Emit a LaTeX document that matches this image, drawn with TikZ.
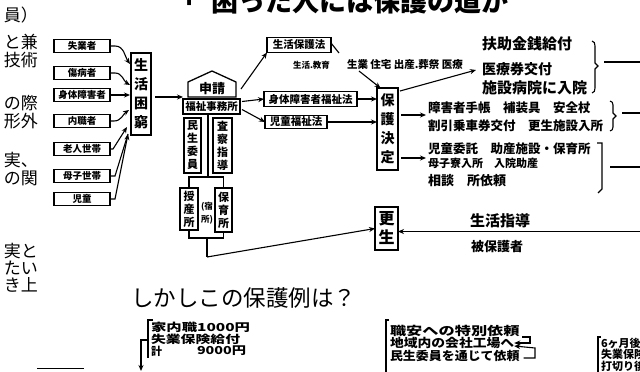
\documentclass[tikz,border=0pt]{standalone}
\usepackage{fontspec}
\newfontfamily\jp{Noto Sans CJK JP}
\usetikzlibrary{arrows.meta}
\newcommand{\fsz}[1]{\fontsize{#1}{#1}\selectfont}
\newcommand{\vfs}[2]{\fontsize{#1}{#2}\selectfont}
\newcommand{\hw}[2]{\scalebox{#1}[1]{#2}}
\begin{document}
\begin{tikzpicture}[x=1pt,y=-1pt,
  every node/.style={inner sep=0pt, outer sep=0pt, font=\jp},
  catbox/.style={draw, line width=1.3pt, minimum width=56pt, minimum height=13pt, font=\jp\bfseries\fsz{9.5}},
  vbox/.style={draw, line width=1.2pt, align=center},
  lawbox/.style={draw, line width=1.3pt, minimum height=15pt, font=\jp\bfseries\fsz{10.5}},
  arr/.style={-{Stealth[length=6pt,width=5pt]}, line width=1.1pt},
  ln/.style={line width=1.1pt},
  hand/.style={anchor=west},
]
\useasboundingbox (0,0) rectangle (640,372);
\fill[white] (0,0) rectangle (640,372);
\clip (0,0) rectangle (640,372);

% left column fragments
\foreach \t/\y [count=\i] in {員）/15, と兼/42, 技術/60, の際/103, 形外/121, 実、/160, の関/178, 実と/251, たい/268, き上/285}
  \node[anchor=east, font=\jp\fsz{17}] (lc\i) at (38,\y) {\t};
\node[anchor=east, font=\jp\fsz{12}] (lcdot) at (7,141) {。};
\draw[line width=1pt] (37,368) -- (84,368);

% title
\node[anchor=base west, font=\jp\bfseries\fsz{27}] (t0) at (170,12) {「};
\node[anchor=base west, font=\jp\bfseries\fsz{27}] (t1) at (211,12) {困った人には保護の道が};

% categories
\node[catbox] (c1) at (82,46) {失業者};
\node[catbox] (c2) at (82,73) {傷病者};
\node[catbox] (c3) at (82,95) {身体障害者};
\node[catbox] (c4) at (82,121) {内職者};
\node[catbox] (c5) at (82,149) {老人世帯};
\node[catbox] (c6) at (82,176) {母子世帯};
\node[catbox] (c7) at (82,199) {児童};

\node[vbox, minimum width=20pt, minimum height=82pt, font=\jp\bfseries\vfs{14}{19}] (kon) at (141,94) {生\\活\\困\\窮};
\coordinate (k1) at (130,64);
\coordinate (k2) at (130,85);
\coordinate (k3) at (130,95);
\coordinate (k4) at (129,110);
\coordinate (k5) at (127,127);
\coordinate (k6) at (128,134);
\draw[arr] (c1.east) -- ++(5,0) to[out=0,in=125] (k1);
\draw[arr] (c2.east) -- ++(5,0) to[out=0,in=150] (k2);
\draw[arr] (c3.east) -- (k3);
\draw[arr] (c4.east) -- ++(4,0) to[out=0,in=215] (k4);
\draw[arr] (c5.east) -- ++(3,0) -- (k5);
\draw[ln] (c6.east) -- ++(5,0) -- (k6);
\draw[arr] (c7.east) -- ++(5,0) -- (k6);

% house
\draw[line width=1.3pt] (188,97) -- (188,82) -- (212,71) -- (236,82) -- (236,97) -- cycle;
\node[font=\jp\bfseries\fsz{13}] (shinsei) at (212,89) {申請};
\node[draw, line width=1.3pt, minimum width=57pt, minimum height=15pt, font=\jp\bfseries\fsz{10.5}] (fuku) at (211.5,106.5) {福祉事務所};
\draw[arr] ([yshift=-3pt]kon.east) ++(4,0) -- (183,97);

\node[vbox, minimum width=17pt, minimum height=55pt, font=\jp\bfseries\vfs{11}{13}] (minsei) at (192.5,145.5) {民\\生\\委\\員};
\node[vbox, minimum width=19pt, minimum height=55pt, font=\jp\bfseries\vfs{11}{13}] (sasatsu) at (222.5,145.5) {査\\察\\指\\導};
\node[vbox, minimum width=18pt, minimum height=42pt, font=\jp\bfseries\vfs{11}{13}] (jusan) at (189,209) {授\\産\\所};
\node[vbox, minimum width=17pt, minimum height=44pt, font=\jp\bfseries\vfs{11}{13}] (hoiku) at (223.5,210) {保\\育\\所};
\node[align=center, font=\jp\bfseries\vfs{8.5}{13}] (shuku) at (207,213) {(宿\\所)};
\coordinate (jt) at (208,177);
\coordinate (jb) at (207,238);
\coordinate (j2) at (207,257);
\draw[ln] ([xshift=-3.5pt]fuku.south) -- (jt);
\draw[ln] (jusan.north) -- ++(0,-11) -| (hoiku.north);
\draw[ln] (jusan.south) -- ++(0,8) -| (hoiku.south);
\draw[ln] (jb) -- (j2);

% laws
\node[lawbox, minimum width=64pt] (b1) at (299,45) {生活保護法};
\node[lawbox, minimum width=93pt] (b2) at (310.5,99) {身体障害者福祉法};
\node[lawbox, minimum width=62pt, minimum height=13pt] (b3) at (296,122) {児童福祉法};
\coordinate (hr) at (241,89);
\draw[arr] (hr) -- (b1.south west);
\draw[arr] ([yshift=5pt]fuku.east) ++(2,0) -- (b2.west);
\draw[arr] ([yshift=-3pt]fuku.east) ++(2,0) -- (b3.west);
\draw[ln] ([yshift=2pt]b1.east) -- ++(8,10);

\node[anchor=west, font=\jp\bfseries\fsz{8.5}] (ty1) at (293,65) {生活.教育};
\node[anchor=west, font=\jp\bfseries\fsz{10.5}] (ty2) at (347,65) {生業 住宅 出産.葬祭 医療};

% decision
\node[vbox, minimum width=21pt, minimum height=82pt, font=\jp\bfseries\vfs{14}{19}] (hogo) at (387.5,129) {保\\護\\決\\定};
\draw[arr] (b2.east) -- (hogo.west |- b2.east);
\draw[arr] (b3.east) -- (hogo.west |- b3.east);
\draw[arr] ([xshift=12pt,yshift=-1pt]ty2.south west) -- ([xshift=-7pt]hogo.north);
\coordinate (g1in) at (476,70);
\draw[arr] ([xshift=2pt,yshift=-3pt]hogo.north east) -- (g1in);

% group 1
\node[hand, font=\jp\bfseries\fsz{15}] (g11) at (482,44) {扶助金銭給付};
\node[hand, font=\jp\bfseries\fsz{14}] (g12) at (482,69) {医療券交付};
\node[hand, font=\jp\bfseries\fsz{15}] (g13) at (482,88) {施設病院に入院};
\draw[line width=1.1pt] (592,41) to[out=0,in=90] (595,46) -- (595,63) -- (598,66) -- (595,69) -- (595,88) to[out=-90,in=0] (592,93);
\coordinate (g1out) at (640,62);
\draw[line width=1.6pt] (604,62) -- (g1out);

% group 2
\coordinate (g2in) at (426,115);
\draw[arr] ([yshift=14pt,xshift=3pt]hogo.east) -- (g2in);
\node[hand, font=\jp\bfseries\fsz{12.5}] (g21) at (428,108) {障害者手帳　補装具　安全杖};
\node[hand, font=\jp\bfseries\fsz{12.5}] (g22) at (428,126) {割引乗車券交付　更生施設入所};
\draw[line width=1.1pt] (610,101) to[out=0,in=90] (613,105) -- (613,113) -- (616,116) -- (613,119) -- (613,127) to[out=-90,in=0] (610,131);
\coordinate (g2out) at (640,113);
\draw[line width=1.6pt] (622,113) -- (g2out);

% group 3
\coordinate (g3in) at (426,158);
\draw[arr] ([yshift=-29pt,xshift=3pt]hogo.east) -- (g3in);
\node[hand, font=\jp\bfseries\fsz{12.5}] (g31) at (428,149) {児童委託　助産施設・保育所};
\node[hand, font=\jp\bfseries\fsz{11}] (g32) at (428,163) {母子寮入所　入院助産};
\node[hand, font=\jp\bfseries\fsz{13}] (g33) at (428,181) {相談　所依頼};
\draw[line width=1.2pt] (597,143) -- (602,143) -- (602,189) -- (598,193);
\coordinate (g3out) at (640,167);
\draw[line width=1.6pt] (610,167) -- (g3out);

% rehabilitation
\node[vbox, minimum width=23pt, minimum height=43pt, font=\jp\bfseries\vfs{16}{19}] (kosei) at (386.5,228.5) {更\\生};
\coordinate (rt) at (640,231.5);
\draw[arr] (rt) -- ([yshift=-3pt]kosei.east);
\draw[arr] (j2) -- (kosei.west);
\node[font=\jp\bfseries\fsz{15}] (shido) at (500,221) {生活指導};
\node[font=\jp\bfseries\fsz{13}] (hi) at (497,247) {被保護者};

% bottom question
\node[anchor=west, font=\jp\fsz{22.5}] (q) at (131,298) {しかしこの保護例は？};

% bottom left notes
\node[hand, font=\jp\bfseries\fsz{11}] (n1) at (151,327) {\hw{1.4}{家内職1000円}};
\node[hand, font=\jp\bfseries\fsz{11}] (n2) at (151,339) {\hw{1.35}{失業保険給付}};
\node[hand, font=\jp\bfseries\fsz{11}] (n3) at (151,351) {計};
\node[hand, font=\jp\bfseries\fsz{11}] (n4) at (197,351) {\hw{1.3}{9000円}};
\draw[ln] (153,320) -- (148,320) -- (148,358);
\coordinate (na) at (141,371);
\draw[arr] (148,340) -- (141,340) -- (na);

% bottom middle notes
\node[hand, font=\jp\bfseries\fsz{12}] (m1) at (390,331) {\hw{1.35}{職安への特別依頼}};
\node[hand, font=\jp\bfseries\fsz{12}] (m2) at (390,343) {\hw{1.15}{地域内の会社工場へ}};
\node[hand, font=\jp\bfseries\fsz{12}] (m3) at (390,356) {\hw{1.08}{民生委員を通じて依頼}};
\draw[ln] (389,320) -- (386,320) -- (386,372);
\draw[arr] (522,337) -- (530,337) -- (530,343) -- (m2.east);
\draw[arr] (m3.east) ++(4,2) -- (535,358) -- (535,348) -- ([yshift=-3pt]m2.east);

% bottom right notes
\draw[ln] (601,337) -- (598,337) -- (598,372);
\node[hand, font=\jp\bfseries\fsz{11}] (r1) at (601,343) {6ヶ月後の};
\node[hand, font=\jp\bfseries\fsz{11}] (r2) at (601,354) {失業保険};
\node[hand, font=\jp\bfseries\fsz{11}] (r3) at (601,366) {打切り後};
\end{tikzpicture}
\end{document}
